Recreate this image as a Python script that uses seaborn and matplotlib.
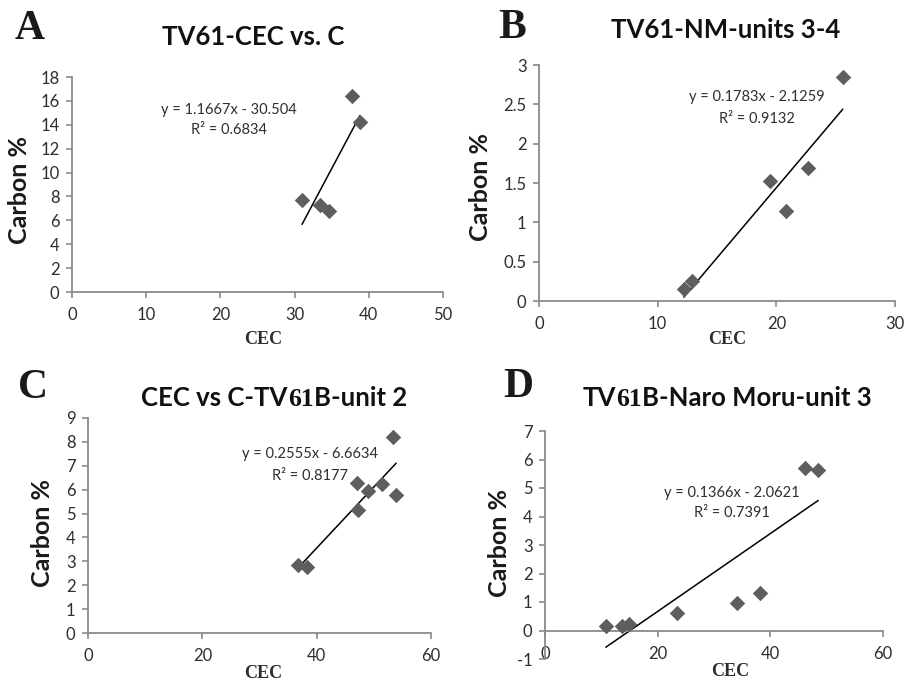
import matplotlib
matplotlib.use("Agg")
import matplotlib.pyplot as plt
import seaborn as sns
import numpy as np
import pandas as pd

# --- data ---
a_cec = [31.0, 33.4, 34.7, 37.8, 38.8]
a_carbon = [7.7, 7.3, 6.8, 16.4, 14.2]

b_cec = [12.2, 12.9, 19.5, 20.85, 22.7, 25.6]
b_carbon = [0.15, 0.25, 1.52, 1.15, 1.69, 2.85]

c_cec = [36.7, 38.35, 47.0, 47.2, 49.0, 51.4, 53.4, 53.9]
c_carbon = [2.86, 2.75, 6.28, 5.16, 5.93, 6.24, 8.19, 5.78]

d_cec = [10.8, 13.6, 14.95, 23.5, 34.0, 38.1, 46.2, 48.5]
d_carbon = [0.15, 0.15, 0.23, 0.62, 0.95, 1.32, 5.71, 5.62]

# trendline coefficients printed on the chart
slopes = [1.1667, 0.1783, 0.2555, 0.1366]
intercepts = [-30.504, -2.1259, -6.6634, -2.0621]
r2_values = ["0.6834", "0.9132", "0.8177", "0.7391"]

panel_letters = ["A", "B", "C", "D"]
x_limits = [(0, 50), (0, 30), (0, 60), (0, 60)]
x_ticks = [[0, 10, 20, 30, 40, 50], [0, 10, 20, 30], [0, 20, 40, 60], [0, 20, 40, 60]]
y_limits = [(0, 18), (0, 3), (0, 9), (-1, 7)]
y_ticks = [list(range(0, 19, 2)), [0, 0.5, 1, 1.5, 2, 2.5, 3], list(range(0, 10)), list(range(-1, 8))]
y_ticklabels = [[str(t) for t in y_ticks[0]],
                ["0", "0.5", "1", "1.5", "2", "2.5", "3"],
                [str(t) for t in y_ticks[2]],
                [str(t) for t in y_ticks[3]]]

# --- layout (pixels in a 910x682 canvas) ---
W, H = 910, 682
def fx(x):
    return x / W
def fy(y):
    return 1 - y / H

sns.set_style("ticks")
plt.rcParams['font.family'] = ['Lato', 'DejaVu Sans']

fig = plt.figure(figsize=(9.1, 6.82), dpi=100)
fig.patch.set_facecolor("white")

# axes boxes: left, top, right, bottom in pixels
boxes = [(72, 77, 443, 292), (539, 65, 895, 301), (88, 418, 431, 633), (545, 431, 883, 659)]
eq_pos = [(229, 110, 130), (757, 97, 119), (310, 454, 476), (732, 493, 513)]
letter_pos = [(30, 29), (512, 28), (33, 388), (518, 387)]
ylabel_pos = [(20, 190), (480, 187), (42, 533), (499, 543)]
xlabel_pos = [(263, 340), (727, 340), (263, 673), (730, 671)]

datasets = [(a_cec, a_carbon), (b_cec, b_carbon), (c_cec, c_carbon), (d_cec, d_carbon)]

axis_grey = "#8a8a8a"
marker_grey = "#5e5e5e"
text_dark = "#2e2e2e"

for i, (xs, ys) in enumerate(datasets):
    l, t, r, b = boxes[i]
    ax = fig.add_axes([fx(l), fy(b), (r - l) / W, (b - t) / H])
    df = pd.DataFrame({"CEC": xs, "Carbon": ys})
    sns.scatterplot(data=df, x="CEC", y="Carbon", ax=ax, marker="D", s=62,
                    color=marker_grey, edgecolor=marker_grey, linewidth=0, zorder=3)
    xline = np.array([min(xs), max(xs)])
    ax.plot(xline, slopes[i] * xline + intercepts[i], color="black", lw=1.1, zorder=2)

    ax.set_xlim(*x_limits[i])
    ax.set_ylim(*y_limits[i])
    ax.set_xticks(x_ticks[i])
    ax.set_yticks(y_ticks[i])
    ax.set_yticklabels(y_ticklabels[i])
    ax.set_xlabel("")
    ax.set_ylabel("")
    ax.set_facecolor("none")
    for side in ["top", "right"]:
        ax.spines[side].set_visible(False)
    for side in ["left", "bottom"]:
        ax.spines[side].set_color(axis_grey)
        ax.spines[side].set_linewidth(1.3)
    if y_limits[i][0] < 0:
        ax.spines["bottom"].set_position(("data", 0))
    ax.tick_params(axis="x", length=4, width=1.2, color=axis_grey, pad=7,
                   labelsize=12, labelcolor=text_dark)
    ax.tick_params(axis="y", length=4, width=1.2, color=axis_grey, pad=5,
                   labelsize=12, labelcolor=text_dark)

    ex, ey1, ey2 = eq_pos[i]
    sign = "-" if intercepts[i] < 0 else "+"
    fig.text(fx(ex), fy(ey1), f"y = {slopes[i]:g}x {sign} {abs(intercepts[i]):g}",
             ha="center", va="center", fontsize=10.5, color=text_dark)
    fig.text(fx(ex), fy(ey2), f"R² = {r2_values[i]}",
             ha="center", va="center", fontsize=10.5, color=text_dark)

    lx, ly = letter_pos[i]
    fig.text(fx(lx), fy(ly), panel_letters[i], ha="center", va="center",
             fontsize=30, fontweight="bold", family="Liberation Serif", color="#1a1a1a")
    yx, yy = ylabel_pos[i]
    fig.text(fx(yx), fy(yy), "Carbon %", rotation=90, ha="center", va="center",
             fontsize=18, fontweight="bold", color="#1a1a1a")
    xx, xy_ = xlabel_pos[i]
    fig.text(fx(xx), fy(xy_), "CEC", ha="center", va="center",
             fontsize=13, fontweight="bold", family="Liberation Serif", color=text_dark)

# titles; C and D have "61" set in a serif face
title_parts = [
    [("TV61-CEC vs. C", "Lato")],
    [("TV61-NM-units 3-4", "Lato")],
    [("CEC vs C-TV", "Lato"), ("61", "Liberation Serif"), ("B-unit 2", "Lato")],
    [("TV", "Lato"), ("61", "Liberation Serif"), ("B-Naro Moru-unit 3", "Lato")],
]
title_centers = [(253, 45), (726, 38), (274, 406), (727, 406)]

renderer = fig.canvas.get_renderer()
for parts, (cx, cy) in zip(title_parts, title_centers):
    texts = []
    x = 0.0
    for s, fam in parts:
        txt = fig.text(x, fy(cy), s, ha="left", va="baseline", fontsize=18.5,
                       fontweight="bold", family=fam, color="#111111")
        x1 = fig.transFigure.inverted().transform(
            (txt.get_window_extent(renderer).x1, 0))[0]
        texts.append(txt)
        x = x1
    total = x
    shift = fx(cx) - total / 2
    for txt in texts:
        px, py = txt.get_position()
        txt.set_position((px + shift, py))

fig.savefig("out.png", dpi=100, facecolor="white")
